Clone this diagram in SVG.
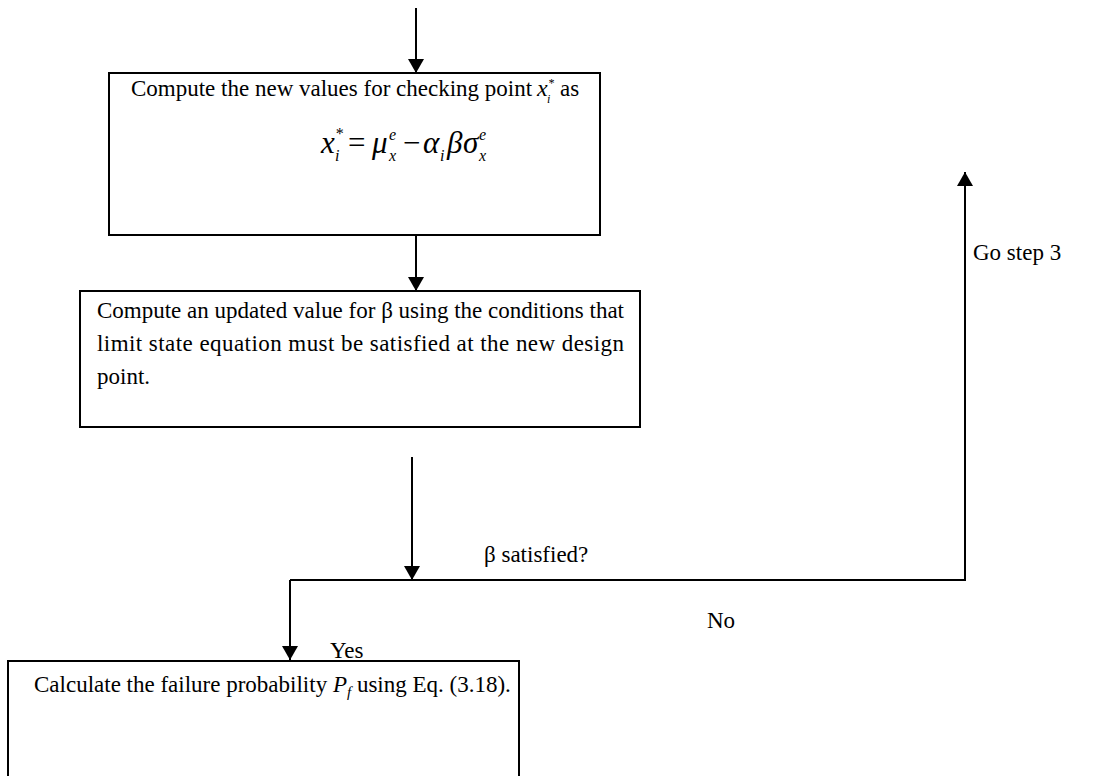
<svg xmlns="http://www.w3.org/2000/svg" width="1102" height="776" viewBox="0 0 1102 776">
<defs>
<style>
.box{fill:#fff;stroke:#000;stroke-width:2}
.ln{fill:none;stroke:#000;stroke-width:2}
.t{font-family:"Liberation Serif","Times New Roman",serif;font-size:23px;fill:#000}
.m{font-family:"Liberation Serif","Times New Roman",serif;font-size:31px;fill:#000}
.i{font-style:italic}
.s{font-size:16px;font-style:italic}
.ss{font-size:12px;font-style:italic}
</style>
<marker id="ah" viewBox="0 0 14 16" refX="14" refY="8" markerWidth="14" markerHeight="16" markerUnits="userSpaceOnUse" orient="auto">
<path d="M0,0 L14,8 L0,16 Z" fill="#000"/>
</marker>
</defs>
<rect width="1102" height="776" fill="#fff"/>
<g id="connectors">
<line class="ln" x1="416" y1="8" x2="416" y2="73" marker-end="url(#ah)"/>
<line class="ln" x1="416" y1="236" x2="416" y2="291" marker-end="url(#ah)"/>
<line class="ln" x1="412" y1="457" x2="412" y2="580" marker-end="url(#ah)"/>
<polyline class="ln" points="290,580 965,580 965,172" marker-end="url(#ah)"/>
<line class="ln" x1="290" y1="580" x2="290" y2="660" marker-end="url(#ah)"/>
<text class="t" x="484" y="562">β satisfied?</text>
<text class="t" x="973" y="260">Go step 3</text>
<text class="t" x="707" y="628">No</text>
<text class="t" x="330" y="658">Yes</text>
</g>
<g id="node1">
<rect class="box" x="109" y="73" width="491" height="162"/>
<text class="t" x="131" y="96">Compute the new values for checking point <tspan class="i" x="537" y="96" font-size="24">x</tspan><tspan class="ss" x="547" y="103">i</tspan><tspan class="ss" x="548" y="87" font-style="normal">*</tspan><tspan x="560" y="96">as</tspan></text>
<text class="m" x="321" y="153"><tspan class="i">x</tspan><tspan class="s" x="335" y="161">i</tspan><tspan class="s" x="335" y="139" font-style="normal">*</tspan><tspan x="348" y="153">=</tspan><tspan class="i" x="372" y="153">μ</tspan><tspan class="s" x="389" y="161">x</tspan><tspan class="s" x="389" y="140">e</tspan><tspan x="403" y="153">−</tspan><tspan class="i" x="423" y="153">α</tspan><tspan class="s" x="440" y="161">i</tspan><tspan class="i" x="447" y="153">β</tspan><tspan class="i" x="463" y="153">σ</tspan><tspan class="s" x="479" y="161">x</tspan><tspan class="s" x="479" y="140">e</tspan></text>
</g>
<g id="node2">
<rect class="box" x="80" y="291" width="560" height="136"/>
<text class="t" x="97" y="318" textLength="527" lengthAdjust="spacing">Compute an updated value for β using the conditions that</text>
<text class="t" x="97" y="351" textLength="527" lengthAdjust="spacing">limit state equation must be satisfied at the new design</text>
<text class="t" x="97" y="384">point.</text>
</g>
<g id="node3">
<rect class="box" x="8" y="661" width="511" height="130"/>
<text class="t" x="34" y="692">Calculate the failure probability <tspan class="i">P</tspan><tspan class="i" font-size="15" dy="5">f</tspan><tspan dy="-5"> using Eq. (3.18).</tspan></text>
</g>
</svg>
